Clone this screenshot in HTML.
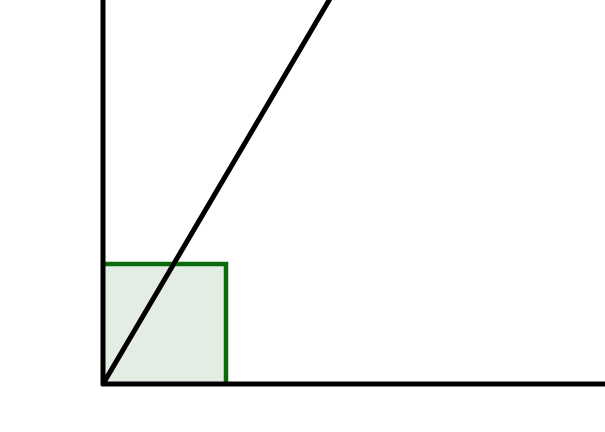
<!DOCTYPE html>
<html><head><meta charset="utf-8"><style>html,body{margin:0;padding:0;background:#fff;width:605px;height:432px;overflow:hidden}</style></head>
<body>
<svg id="chart" width="605" height="432" xmlns="http://www.w3.org/2000/svg"></svg>
<script>
const squareCorner = [0, 0];
const squareSize = [1, 1];
const lineSlope = [1.74];
const xDomain = [0, 4.07];
const yDomain = [0, 3.2];

const ox = 103, oy = 384, unitX = 123, unitY = 120;
function sx(v){ return ox + v * unitX; }
function sy(v){ return oy - v * unitY; }

const svg = document.getElementById('chart');
const NS = 'http://www.w3.org/2000/svg';
function mk(tag, attrs){ const e = document.createElementNS(NS, tag); for (const k in attrs) e.setAttribute(k, attrs[k]); svg.appendChild(e); return e; }

const sq = mk('rect', {x: sx(squareCorner[0]), y: sy(squareCorner[1] + squareSize[1]), width: sx(squareSize[0]) - sx(0), height: sy(0) - sy(squareSize[1]), fill: '#e4ede4', stroke: '#0b6b0b', 'stroke-width': 4.5});



const yax = mk('line', {x1: sx(0), y1: sy(0), x2: sx(0), y2: sy(yDomain[1]) - 5, stroke: '#000', 'stroke-width': 5});



const xax = mk('line', {x1: sx(0), y1: sy(0), x2: sx(xDomain[1]) + 5, y2: sy(0), stroke: '#000', 'stroke-width': 5, 'stroke-linecap': 'round'});



const yEnd = yDomain[1] + 0.05;
const ln = mk('line', {x1: sx(0), y1: sy(0), x2: sx(yEnd / lineSlope[0]), y2: sy(yEnd), stroke: '#000', 'stroke-width': 5, 'stroke-linecap': 'round'});


</script>
</body></html>
